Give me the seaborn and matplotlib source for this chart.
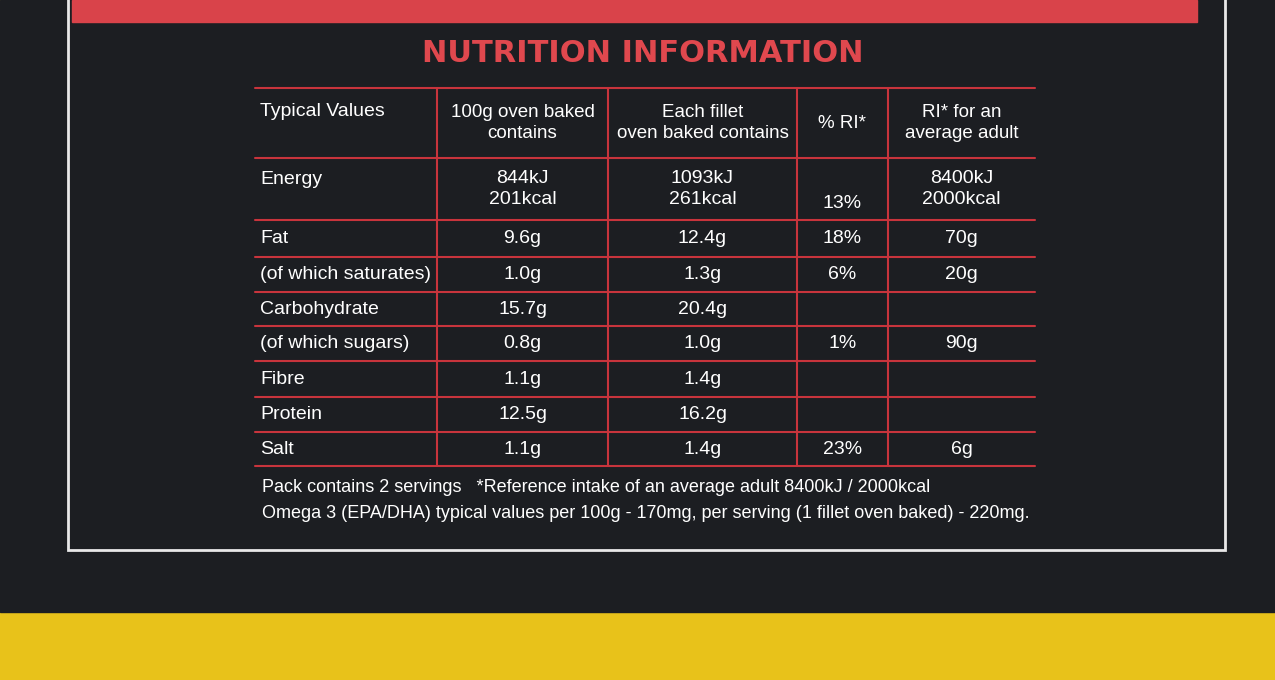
import matplotlib
matplotlib.use("Agg")
import matplotlib.pyplot as plt
import seaborn as sns

sns.set_theme(style="white")
plt.rcParams['font.family'] = ['Liberation Sans', 'DejaVu Sans']

title = "NUTRITION INFORMATION"
headers = ["Typical Values", "100g oven baked\ncontains", "Each fillet\noven baked contains", "% RI*", "RI* for an\naverage adult"]
nutrients = ["Energy", "Fat", "(of which saturates)", "Carbohydrate", "(of which sugars)", "Fibre", "Protein", "Salt"]
per100g = ["844kJ\n201kcal", "9.6g", "1.0g", "15.7g", "0.8g", "1.1g", "12.5g", "1.1g"]
per_fillet = ["1093kJ\n261kcal", "12.4g", "1.3g", "20.4g", "1.0g", "1.4g", "16.2g", "1.4g"]
pct_ri = ["13%", "18%", "6%", "", "1%", "", "", "23%"]
ri_adult = ["8400kJ\n2000kcal", "70g", "20g", "", "90g", "", "", "6g"]
footer = ["Pack contains 2 servings   *Reference intake of an average adult 8400kJ / 2000kcal",
          "Omega 3 (EPA/DHA) typical values per 100g - 170mg, per serving (1 fillet oven baked) - 220mg."]

fig = plt.figure(figsize=(12.75, 6.8), dpi=100)
ax = fig.add_axes([0, 0, 1, 1])
ax.set_xlim(0, 1275); ax.set_ylim(680, 0); ax.axis("off")

ax.add_patch(plt.Rectangle((0, 0), 1275, 680, color="#e8c21a", zorder=0))
ax.add_patch(plt.Rectangle((0, 0), 1275, 612, color="#1c1e22", zorder=1))
ax.add_patch(plt.Rectangle((72, 0), 1125, 22, color="#d9434a", zorder=2))
ax.add_patch(plt.Rectangle((68, -5), 1157, 555, fill=False, ec="#e8e8e8", lw=2, zorder=2))

ax.text(643, 53, title, color="#e0484e", fontsize=22, fontweight="bold",
        family=["DejaVu Sans"], ha="center", va="center", zorder=3)

red = "#c8343c"
xs = [255, 437, 608, 797, 888, 1035]
ys = [88, 158, 220, 257, 292, 326, 361, 397, 432, 466]
for y in ys:
    ax.plot([xs[0], xs[-1]], [y, y], color=red, lw=1.5, zorder=3)
for x in xs[1:-1]:
    ax.plot([x, x], [ys[0], ys[-1]], color=red, lw=1.5, zorder=3)

fs = 14
ax.text(260, 112, headers[0], color="white", fontsize=fs, va="center", zorder=4)
for i, h in enumerate(headers[1:], start=1):
    ax.text((xs[i] + xs[i + 1]) / 2, 123, h, color="white", fontsize=fs - 0.5,
            ha="center", va="center", linespacing=1.3, zorder=4)

cols = [per100g, per_fillet, pct_ri, ri_adult]
for r, name in enumerate(nutrients):
    y0, y1 = ys[r + 1], ys[r + 2]
    yc = (y0 + y1) / 2
    ax.text(260, (y0 + 22) if r == 0 else yc, name, color="white", fontsize=fs, va="center", zorder=4)
    for c, col in enumerate(cols):
        v = col[r]
        xc = (xs[c + 1] + xs[c + 2]) / 2
        if r == 0 and c == 2:
            ax.text(xc, 203, v, color="white", fontsize=fs, ha="center", va="center", zorder=4)
        else:
            ax.text(xc, yc, v, color="white", fontsize=fs, ha="center", va="center",
                    linespacing=1.3, zorder=4)

ax.text(262, 488, footer[0], color="white", fontsize=13, va="center", zorder=4)
ax.text(262, 514, footer[1], color="white", fontsize=13, va="center", zorder=4)

fig.savefig("out.png", dpi=100)
